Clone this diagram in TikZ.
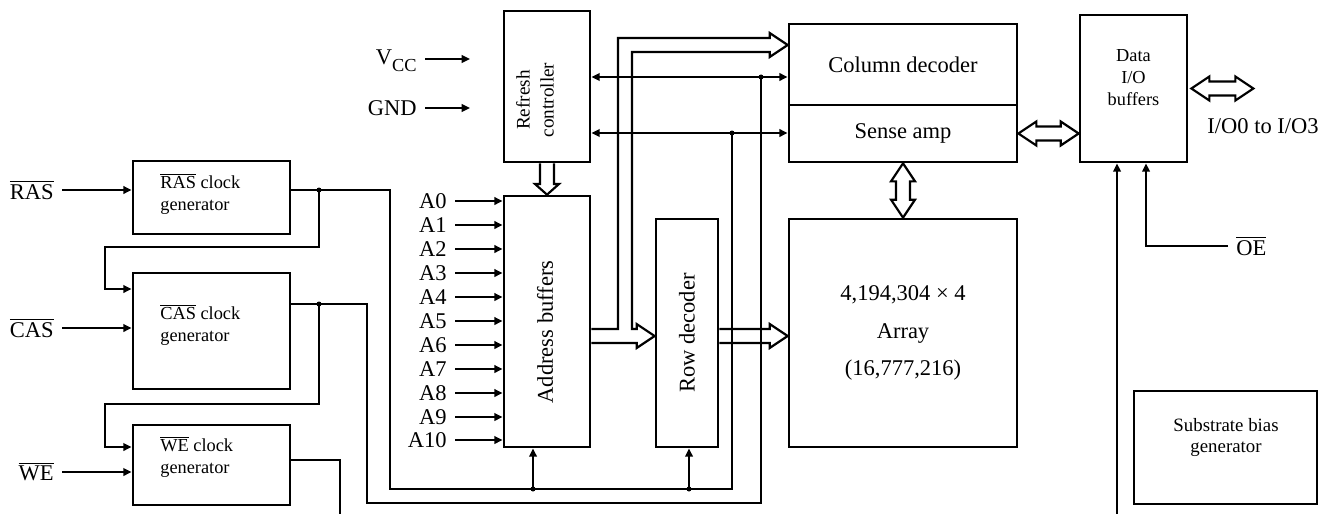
\documentclass[tikz,border=0pt]{standalone}
\usepackage{fontspec}
\setmainfont{Liberation Serif}
\usetikzlibrary{arrows.meta,calc}
\newcommand{\ovl}[1]{$\overline{\mbox{#1}}$}
\newcommand{\mainfs}{\fontsize{13.5}{16}\selectfont}
\newcommand{\smallfs}{\fontsize{11}{13.2}\selectfont}
% hollow bus arrows (units are px)
\newcommand{\busR}[2]{%
  \draw[bus] ($(#1)+(0,-7)$) -- ($(#2)+(-18,-7)$) -- ($(#2)+(-18,-12)$) -- (#2)
    -- ($(#2)+(-18,12)$) -- ($(#2)+(-18,7)$) -- ($(#1)+(0,7)$);}
\newcommand{\busH}[2]{%
  \draw[bus] (#1) -- ($(#1)+(18,-12)$) -- ($(#1)+(18,-7)$) -- ($(#2)+(-18,-7)$)
    -- ($(#2)+(-18,-12)$) -- (#2) -- ($(#2)+(-18,12)$) -- ($(#2)+(-18,7)$)
    -- ($(#1)+(18,7)$) -- ($(#1)+(18,12)$) -- cycle;}
\newcommand{\busV}[2]{%
  \draw[bus] (#1) -- ($(#1)+(12,18)$) -- ($(#1)+(7,18)$) -- ($(#2)+(7,-18)$)
    -- ($(#2)+(12,-18)$) -- (#2) -- ($(#2)+(-12,-18)$) -- ($(#2)+(-7,-18)$)
    -- ($(#1)+(-7,18)$) -- ($(#1)+(-12,18)$) -- cycle;}

\begin{document}
\begin{tikzpicture}[x=0.6pt,y=-0.6pt,
  blk/.style 2 args={draw,line width=1.6pt,inner sep=0pt,minimum width=#1*0.6pt,minimum height=#2*0.6pt,font=\mainfs},
  txt/.style={font=\smallfs,inner sep=0pt,align=left},
  lbl/.style={font=\mainfs,inner xsep=4.8pt,inner ysep=0pt},
  wire/.style={line width=1.5pt},
  sig/.style={wire,-{Triangle[length=5pt,width=4.5pt]}},
  bus/.style={line width=1.3pt,line join=miter}]
\useasboundingbox (0,0) rectangle (1328,514);

% clock generators
\node[blk={157}{73}] (rasgen) at (211.5,197.5) {};
\node[blk={157}{116}] (casgen) at (211.5,331) {};
\node[blk={157}{80}] (wegen) at (211.5,465) {};
\node[txt,anchor=west] (rastxt) at (160,194) {\ovl{RAS} clock\\generator};
\node[txt,anchor=west] (castxt) at (160,325) {\ovl{CAS} clock\\generator};
\node[txt,anchor=west] (wetxt) at (160,456.5) {\ovl{WE} clock\\generator};

% core blocks
\node[blk={86}{151}] (refresh) at (547,86.5) {};
\node[txt,align=center,rotate=90,font=\fontsize{11.5}{14.4}\selectfont] (reftxt) at (535,100) {Refresh\\controller};
\node[blk={86}{251}] (addr) at (547,321.5) {};
\node[rotate=90,font=\mainfs,inner sep=0pt] (addrtxt) at (545,332) {Address buffers};
\node[blk={62}{228}] (rowdec) at (687,333) {};
\node[rotate=90,font=\mainfs,inner sep=0pt] (rowtxt) at (687,333) {Row decoder};
\node[blk={228}{81}] (coldec) at (903,64.5) {Column decoder};
\node[blk={228}{57}] (sense) at (903,133.5) {Sense amp};
\node[blk={228}{228},align=center,font=\fontsize{13.5}{22.5}\selectfont] (array) at (903,333) {4,194,304 × 4\\Array\\(16,777,216)};
\node[blk={107}{147}] (dataio) at (1133.5,88.5) {};
\node[txt,align=center,font=\fontsize{11}{13}\selectfont] (datatxt) at (1133.5,77.5) {Data\\I/O\\buffers};
\node[blk={183}{113}] (subbias) at (1225.5,447.5) {};
\node[txt,align=center,font=\fontsize{11.3}{12.6}\selectfont] (subtxt) at (1226,437.5) {Substrate bias\\generator};

% pin labels
\node[lbl,anchor=east] (rasin) at (62,190) {\ovl{RAS}};
\node[lbl,anchor=east] (casin) at (62,328) {\ovl{CAS}};
\node[lbl,anchor=east] (wein) at (62,472) {\ovl{WE}};
\node[lbl,anchor=east] (vcc) at (425,61) {V\raisebox{-4.2pt}{\fontsize{11}{13}\selectfont CC}};
\node[lbl,anchor=east] (gnd) at (425,108) {GND};
\foreach \i in {0,...,9}
  \node[lbl,anchor=east] (a\i) at (455,201+24*\i) {A\i};
\node[lbl,anchor=east] (a10) at (455,440) {A10};
\node[font=\mainfs,inner sep=0pt] (iolbl) at (1263,126) {I/O0 to I/O3};
\node[lbl,anchor=west] (oe) at (1228,246) {\ovl{OE}};

% inputs
\draw[sig] (rasin.east) -- (rasin.east -| rasgen.west);
\draw[sig] (casin.east) -- (casin.east -| casgen.west);
\draw[sig] (wein.east) -- (wein.east -| wegen.west);
\draw[sig] (vcc.east |- 0,59) -- ++(45,0);
\draw[sig] (gnd.east) -- ++(45,0);
\foreach \i in {0,...,10}
  \draw[sig] (a\i.east) -- (a\i.east -| addr.west);

% junctions
\coordinate (jras) at (319,190);
\coordinate (jcas) at (319,304);
\coordinate (jsa) at (732,133);
\coordinate (jcd) at (761,77);
\coordinate (jab) at (533,489);
\coordinate (jrd) at (689,489);

% RAS clock
\draw[wire] (rasgen.east |- jras) -- (390,190) |- (jsa |- jab) -- (jsa);
\draw[sig] (jsa) -- (jsa -| refresh.east);
\draw[sig] (jsa) -- (jsa -| sense.west);
\draw[sig] (jab) -- (jab |- addr.south);
\draw[sig] (jrd) -- (jrd |- rowdec.south);
% CAS clock
\draw[wire] (casgen.east |- jcas) -- (367,304) |- (jcd |- 0,503) -- (jcd);
\draw[sig] (jcd) -- (jcd -| refresh.east);
\draw[sig] (jcd) -- (jcd -| coldec.west);
% chain RAS -> CAS -> WE
\draw[sig] (jras) -- (319,247) -| (105,289) -- (casgen.west |- 0,289);
\draw[sig] (jcas) -- (319,404) -| (105,447) -- (wegen.west |- 0,447);
% WE clock and OE
\draw[wire] (wegen.east |- 0,460) -- (340,460) -- (340,514);
\draw[sig] (1117,514) -- (dataio.south -| 1117,0);
\draw[sig] (oe.west) -- (1146,246) -- (dataio.south -| 1146,0);

\foreach \p in {jras,jcas,jsa,jcd,jab,jrd}
  \fill (\p) circle (2.5);

% buses
\draw[bus] (refresh.south -| 540,0) -- (540,184) -- (535,184) -- (addr.north)
  -- (559,184) -- (554,184) -- (refresh.south -| 554,0);
\coordinate (cdin) at (coldec.west |- 0,45);
\coordinate (rdin) at (rowdec.west |- 0,336);
\draw[bus] (addr.east |- 0,329) -- (618,329) -- (618,38) -- ($(cdin)+(-18,-7)$)
  -- ($(cdin)+(-18,-12)$) -- (cdin) -- ($(cdin)+(-18,12)$) -- ($(cdin)+(-18,7)$)
  -- (632,52) -- (632,329) -- ($(rdin)+(-18,-7)$) -- ($(rdin)+(-18,-12)$) -- (rdin)
  -- ($(rdin)+(-18,12)$) -- ($(rdin)+(-18,7)$) -- (addr.east |- 0,343);
\coordinate (rdout) at (rowdec.east |- 0,336);
\coordinate (arin) at (array.west |- 0,336);
\busR{rdout}{arin}
\busV{sense.south}{array.north}
\coordinate (dtin) at (dataio.west |- sense.east);
\busH{sense.east}{dtin}
\coordinate (iol) at ($(dataio.east)+(3,0)$);
\coordinate (ior) at ($(dataio.east)+(65,0)$);
\busH{iol}{ior}
\end{tikzpicture}
\end{document}
